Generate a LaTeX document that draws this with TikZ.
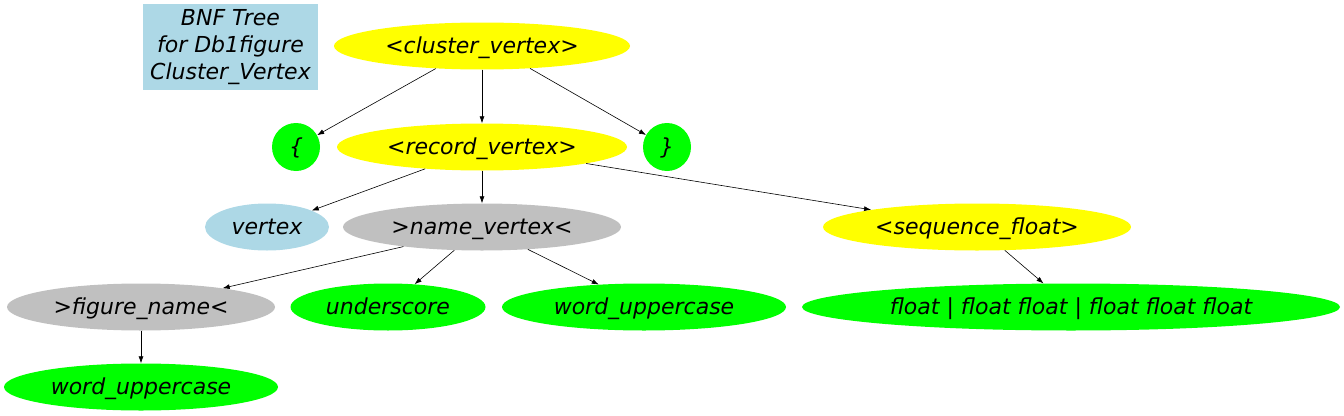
\documentclass[tikz,border=0pt]{standalone}
\usepackage{fontspec}
\setmainfont{DejaVu Sans}
\usetikzlibrary{shapes.geometric,arrows.meta}
\definecolor{cyel}{HTML}{FFFF00}
\definecolor{cgrn}{HTML}{00FF00}
\definecolor{cgry}{HTML}{C0C0C0}
\definecolor{cblu}{HTML}{ADD8E6}
\begin{document}
\begin{tikzpicture}[x=1pt,y=-1pt,
  every node/.style={font=\fontsize{22}{27}\selectfont\itshape, inner sep=0pt},
  ell/.style={ellipse, minimum height=47pt, text height=18pt, text depth=4pt},
  yel/.style={ell, fill=cyel},
  grn/.style={ell, fill=cgrn},
  gry/.style={ell, fill=cgry},
  blu/.style={ell, fill=cblu},
  circ/.style={circle, fill=cgrn, minimum size=48pt, text height=18pt, text depth=4pt},
  conn/.style={draw=black, line width=0.6pt, -{Latex[length=7pt,width=5pt]}}
]
\useasboundingbox (0,0) rectangle (1344,415);
\node[fill=cblu, minimum width=175pt, minimum height=86pt, align=center] (title) at (230.5,47) {BNF Tree\\for Db1figure\\Cluster\_Vertex};
\node[yel, minimum width=296pt] (cv) at (482,46) {<cluster\_vertex>};
\node[circ] (lb) at (296,147) {\{};
\node[yel, minimum width=290pt] (rv) at (482,147) {<record\_vertex>};
\node[circ] (rb) at (667,147) {\}};
\node[blu, minimum width=124pt] (vx) at (267,227) {vertex};
\node[gry, minimum width=278pt] (nv) at (482,227) {>name\_vertex<};
\node[yel, minimum width=308pt] (sf) at (977,227) {<sequence\_float>};
\node[gry, minimum width=268pt] (fn) at (141,307) {>figure\_name<};
\node[grn, minimum width=195pt] (us) at (388,307) {underscore};
\node[grn, minimum width=284pt] (wu1) at (644,307) {word\_uppercase};
\node[grn, minimum width=538pt] (fl) at (1071,307) {float | float float | float float float};
\node[grn, minimum width=274pt] (wu2) at (141,387) {word\_uppercase};
\draw[conn] (cv.206) -- (lb);
\draw[conn] (cv.south) -- (rv);
\draw[conn] (cv.335) -- (rb);
\draw[conn] (rv.201) -- (vx);
\draw[conn] (rv.south) -- (nv);
\draw[conn] (rv.351) -- (sf);
\draw[conn] (nv.194) -- (fn);
\draw[conn] (nv.220) -- (us);
\draw[conn] (nv.334) -- (wu1);
\draw[conn] (sf.320) -- (fl);
\draw[conn] (fn.south) -- (wu2);
\end{tikzpicture}
\end{document}
